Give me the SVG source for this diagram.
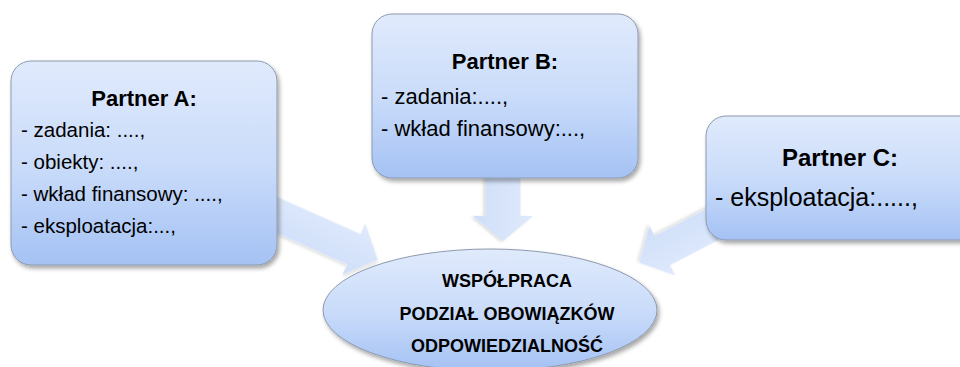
<svg xmlns="http://www.w3.org/2000/svg" width="960" height="367" viewBox="0 0 960 367">
<defs>
<linearGradient id="gBox" x1="0" y1="0" x2="0" y2="1">
<stop offset="0" stop-color="#e0eafc"/>
<stop offset="0.5" stop-color="#cadcfa"/>
<stop offset="1" stop-color="#a5c2f4"/>
</linearGradient>
<linearGradient id="gArrow" x1="0" y1="0" x2="0" y2="1">
<stop offset="0" stop-color="#dfe9fc"/>
<stop offset="1" stop-color="#cfdff9"/>
</linearGradient>
<filter id="sh" x="-10%" y="-10%" width="130%" height="130%">
<feDropShadow dx="2" dy="3" stdDeviation="2" flood-color="#000" flood-opacity="0.35"/>
</filter>
<filter id="shA" x="-10%" y="-10%" width="130%" height="130%">
<feDropShadow dx="1" dy="2" stdDeviation="1.5" flood-color="#000" flood-opacity="0.15"/>
</filter>
</defs>
<style>
.box{fill:url(#gBox);stroke:#8d9aae;stroke-width:1;filter:url(#sh)}
.arrow{fill:url(#gArrow);filter:url(#shA)}
.t{font-family:"Liberation Sans",Arial,sans-serif;fill:#000}
.title{font-weight:bold;font-size:22px;text-anchor:middle}
.item{font-size:20.5px}
.ctr{font-weight:bold;font-size:18px;text-anchor:middle}
</style>
<g id="connectors">
<polygon class="arrow" transform="translate(268,211) rotate(24)" points="0,-16.5 94,-16.5 94,-28 120,0 94,28 94,16.5 0,16.5"/>
<polygon class="arrow" transform="translate(503,172) rotate(90)" points="0,-17.5 44,-17.5 44,-30 69,0 44,30 44,17.5 0,17.5"/>
<polygon class="arrow" transform="translate(719,221) rotate(152.4)" points="0,-16.5 64,-16.5 64,-28 90,0 64,28 64,16.5 0,16.5"/>
</g>
<g id="partnerA">
<rect class="box" x="11" y="61" width="266" height="204" rx="20"/>
<text class="t title" x="144" y="106">Partner A:</text>
<text class="t item" x="21" y="137">- zadania: ....,</text>
<text class="t item" x="21" y="169">- obiekty: ....,</text>
<text class="t item" x="21" y="201">- wkład finansowy: ....,</text>
<text class="t item" x="21" y="233">- eksploatacja:...,</text>
</g>
<g id="partnerB">
<rect class="box" x="372" y="14" width="266" height="164" rx="20"/>
<text class="t title" x="505" y="69">Partner B:</text>
<text class="t item" x="381" y="104" style="font-size:22px">- zadania:....,</text>
<text class="t item" x="381" y="136" style="font-size:22px">- wkład finansowy:...,</text>
</g>
<g id="partnerC">
<rect class="box" x="706" y="116" width="280" height="124" rx="20"/>
<text class="t title" x="840" y="166" style="font-size:24px">Partner C:</text>
<text class="t item" x="715" y="206" style="font-size:25px">- eksploatacja:.....,</text>
</g>
<g id="center">
<ellipse class="box" cx="490" cy="310" rx="167" ry="61"/>
<text class="t ctr" x="507" y="287">WSPÓŁPRACA</text>
<text class="t ctr" x="507" y="320">PODZIAŁ OBOWIĄZKÓW</text>
<text class="t ctr" x="507" y="352">ODPOWIEDZIALNOŚĆ</text>
</g>
</svg>
